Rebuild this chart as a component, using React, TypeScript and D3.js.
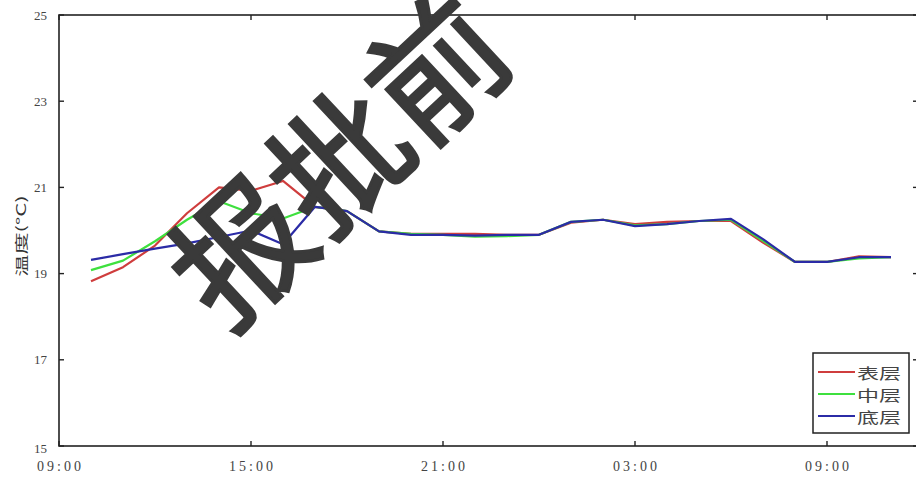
import React from "react";
import * as d3 from "d3";

const times = [
  "2020-01-01 10:00", "2020-01-01 11:00", "2020-01-01 12:00", "2020-01-01 13:00",
  "2020-01-01 14:00", "2020-01-01 15:00", "2020-01-01 16:00", "2020-01-01 17:00",
  "2020-01-01 18:00", "2020-01-01 19:00", "2020-01-01 20:00", "2020-01-01 21:00",
  "2020-01-01 22:00", "2020-01-01 23:00", "2020-01-02 00:00", "2020-01-02 01:00",
  "2020-01-02 02:00", "2020-01-02 03:00", "2020-01-02 04:00", "2020-01-02 05:00",
  "2020-01-02 06:00", "2020-01-02 07:00", "2020-01-02 08:00", "2020-01-02 09:00",
  "2020-01-02 10:00", "2020-01-02 11:00",
];

const surface = [
  18.82, 19.15, 19.65, 20.4, 21.0, 20.92, 21.15, 20.55, 20.45, 19.98, 19.92, 19.92, 19.92,
  19.9, 19.9, 20.18, 20.25, 20.15, 20.2, 20.22, 20.22, 19.72, 19.27, 19.27, 19.4, 19.38,
];
const middle = [
  19.08, 19.3, 19.75, 20.25, 20.68, 20.4, 20.28, 20.55, 20.45, 19.98, 19.92, 19.9, 19.86,
  19.87, 19.9, 20.2, 20.25, 20.12, 20.15, 20.22, 20.25, 19.76, 19.27, 19.27, 19.35, 19.38,
];
const bottom = [
  19.32, 19.45, 19.58, 19.7, 19.85, 20.0, 19.68, 20.55, 20.45, 19.98, 19.9, 19.9, 19.88,
  19.9, 19.9, 20.2, 20.25, 20.1, 20.15, 20.22, 20.27, 19.8, 19.27, 19.27, 19.38, 19.38,
];

const seriesNames = ["表层", "中层", "底层"];
const seriesColors = ["#cf3d3d", "#3ee03e", "#2b2ba6"];

const yTicks = [15, 17, 19, 21, 23, 25];
const xTicks = ["2020-01-01 09:00", "2020-01-01 15:00", "2020-01-01 21:00", "2020-01-02 03:00", "2020-01-02 09:00"];
const xDomain = ["2020-01-01 09:00", "2020-01-02 11:50"];
const yLabel = "温度(°C)";
const watermark = "报批前";

const W = 916, H = 479;
const left = 59, right = 918, top = 15, bot = 446;

export default function App() {
  const parse = d3.timeParse("%Y-%m-%d %H:%M");
  const fmt = d3.timeFormat("%H:%M");
  const x = d3.scaleTime().domain(xDomain.map((s) => parse(s) as Date)).range([left, 59 + 32 * (26 + 50 / 60)]);
  const y = d3.scaleLinear().domain([15, 25]).range([bot, top]);
  const line = d3.line<[Date, number]>().x((d) => x(d[0])).y((d) => y(d[1]));
  const dates = times.map((t) => parse(t) as Date);
  const all = [surface, middle, bottom];
  const serif = "'Liberation Serif', 'DejaVu Serif', serif";
  const cjk = "'Noto Sans CJK SC', sans-serif";
  const tk = 5;
  const legendRows = [372, 394, 416];

  return (
    <svg width={W} height={H} style={{ position: "fixed", left: 0, top: 0, background: "#fff" }}>
      <rect x={0} y={0} width={W} height={H} fill="#fff" />
      <defs>
        <clipPath id="pc">
          <rect x={left} y={top} width={right - left} height={bot - top} />
        </clipPath>
      </defs>
      {/* series */}
      <g clipPath="url(#pc)">
        {all.map((vals, i) => (
          <path
            key={i}
            d={line(dates.map((d, j) => [d, vals[j]] as [Date, number])) || ""}
            fill="none"
            stroke={seriesColors[i]}
            strokeWidth={2.2}
            strokeLinejoin="round"
          />
        ))}
      </g>
      {/* frame */}
      <rect x={left} y={top} width={right - left} height={bot - top} fill="none" stroke="#222" strokeWidth={1.6} />
      {/* y ticks */}
      {yTicks.map((t) => (
        <g key={"y" + t}>
          <line x1={left} x2={left + tk} y1={y(t)} y2={y(t)} stroke="#222" strokeWidth={1.4} />
          <line x1={right} x2={right - tk} y1={y(t)} y2={y(t)} stroke="#222" strokeWidth={1.4} />
          <text x={47} y={t === 15 ? y(t) + 2 : y(t)} textAnchor="end" dominantBaseline="central" fontFamily={serif} fontSize={13} fill="#444">
            {t}
          </text>
        </g>
      ))}
      {/* x ticks */}
      {xTicks.map((s) => {
        const d = parse(s) as Date;
        const xv = x(d);
        return (
          <g key={s}>
            <line x1={xv} x2={xv} y1={bot} y2={bot - tk} stroke="#222" strokeWidth={1.4} />
            <line x1={xv} x2={xv} y1={top} y2={top + tk} stroke="#222" strokeWidth={1.4} />
            <text x={xv + 1.5} y={466} textAnchor="middle" dominantBaseline="central" fontFamily={serif} fontSize={14} letterSpacing={3} fill="#444">
              {fmt(d)}
            </text>
          </g>
        );
      })}
      {/* y label */}
      <text transform="translate(20,236) rotate(-90) scale(1.7,1)" textAnchor="middle" dominantBaseline="central" fontFamily={cjk} fontSize={13} fill="#333">
        {yLabel}
      </text>
      {/* legend */}
      <rect x={813} y={353} width={96} height={80} fill="#fff" stroke="#222" strokeWidth={1.5} />
      {seriesNames.map((n, i) => (
        <g key={n}>
          <line x1={818} x2={855} y1={legendRows[i]} y2={legendRows[i]} stroke={seriesColors[i]} strokeWidth={2.2} />
          <text x={857} y={legendRows[i]} dominantBaseline="central" fontFamily={cjk} fontSize={15} textLength={44} lengthAdjust="spacingAndGlyphs" fill="#444">
            {n}
          </text>
        </g>
      ))}
      {/* watermark */}
      <g transform="translate(236,246) rotate(-43)">
        <text x={-67} y={0} dominantBaseline="central" fontFamily={cjk} fontWeight={400} fontSize={134} fill="#3a3a3a" stroke="#3a3a3a" strokeWidth={3} strokeLinejoin="miter">
          {watermark}
        </text>
      </g>
    </svg>
  );
}
